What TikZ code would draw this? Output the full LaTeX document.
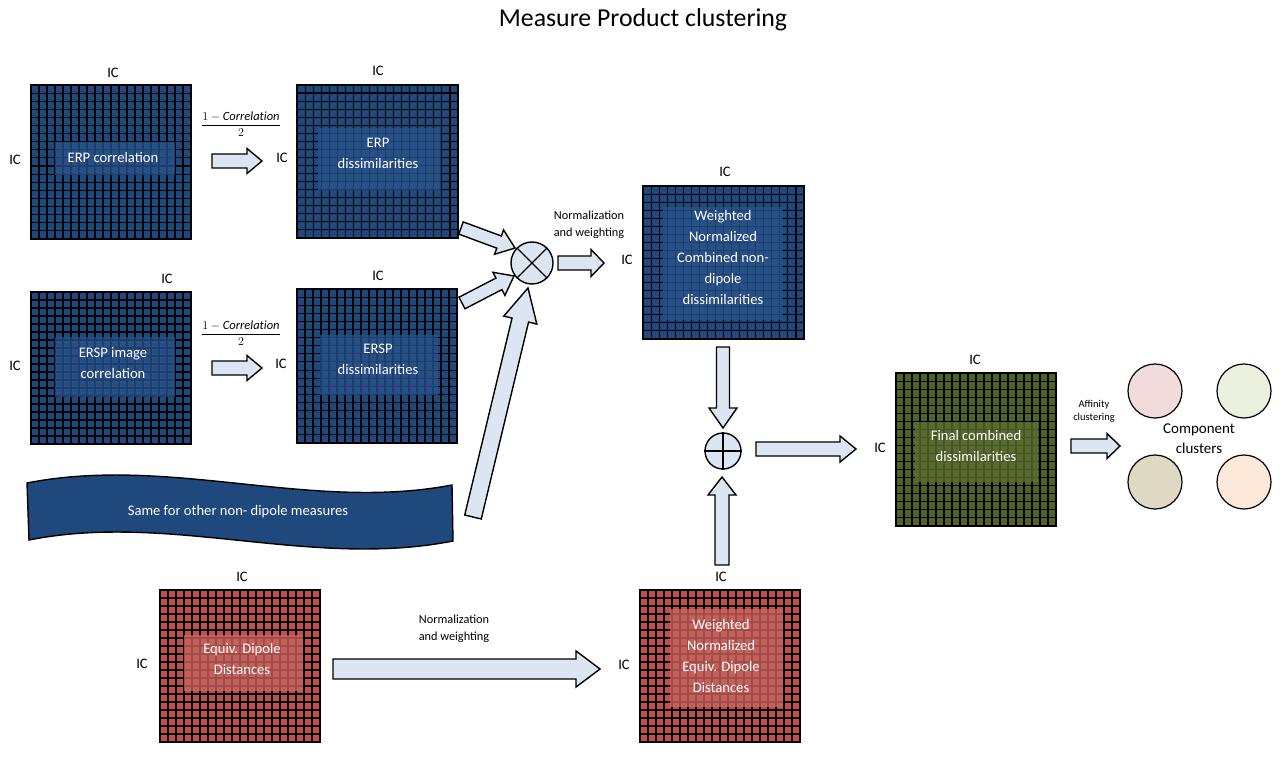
\documentclass[tikz,border=0pt]{standalone}
\usepackage{fontspec}
\setmainfont{Carlito}
\usetikzlibrary{calc}
\definecolor{mblue}{RGB}{31,73,125}
\definecolor{iblue}{RGB}{40,82,138}
\definecolor{mred}{RGB}{192,80,77}
\definecolor{ired}{RGB}{202,100,96}
\definecolor{mgreen}{RGB}{79,98,40}
\definecolor{igreen}{RGB}{90,110,50}
\definecolor{afill}{RGB}{220,230,242}
\definecolor{cpink}{RGB}{242,220,219}
\definecolor{cgreen}{RGB}{235,241,222}
\definecolor{ctan}{RGB}{221,217,195}
\definecolor{cpeach}{RGB}{253,233,217}
\tikzset{
  matbox/.style={inner sep=0pt, outer sep=0pt},
  gridline/.style={black, line width=1.1pt},
  matborder/.style={black, line width=1.8pt},
  inbox/.style={inner sep=0pt, outer sep=0pt, fill opacity=0.78},
  mtext/.style={text=white, align=center, font=\fontsize{14.6}{21}\selectfont},
  iclabel/.style={font=\fontsize{14.5}{17}\selectfont},
  smalllabel/.style={align=center, font=\fontsize{12.3}{17}\selectfont},
  blockarrow/.style={draw=black, line width=1.4pt, fill=afill, line join=miter},
  opnode/.style={circle, draw=black, line width=1.4pt, fill=afill, inner sep=0pt},
  clust/.style={circle, draw=black, line width=1.2pt, minimum size=54pt, inner sep=0pt},
}
% matrix: name, cx, cy, width, height, colour
\newcommand\icmat[6]{%
  \node[matbox, fill=#6, minimum width=#4pt, minimum height=#5pt] (#1) at (#2,#3) {};
  \foreach \k in {1,...,19}{\draw[gridline] ($(#1.north west)!{\k/20}!(#1.north east)$) -- ($(#1.south west)!{\k/20}!(#1.south east)$);}
  \foreach \k in {1,...,18}{\draw[gridline] ($(#1.north west)!{\k/19}!(#1.south west)$) -- ($(#1.north east)!{\k/19}!(#1.south east)$);}
  \draw[matborder] (#1.north west) rectangle (#1.south east);
}
% block arrow: tail, tip, shaft half width, head half width, head length
\newcommand\barrow[5]{%
  \draw[blockarrow] ($(#1)!#3!90:(#2)$) -- ($($(#2)!#5!(#1)$)!#3!-90:(#1)$) -- ($($(#2)!#5!(#1)$)!#4!-90:(#1)$) -- (#2) -- ($($(#2)!#5!(#1)$)!#4!90:(#1)$) -- ($($(#2)!#5!(#1)$)!#3!90:(#1)$) -- ($(#1)!#3!-90:(#2)$) -- cycle;
}
\begin{document}
\begin{tikzpicture}[x=1pt,y=-1pt]
\useasboundingbox (0,0) rectangle (1284,767);
\fill[white] (0,0) rectangle (1284,767);

\node[font=\fontsize{25.8}{30}\selectfont] (title) at (643,20) {Measure Product clustering};

% matrices
\icmat{m1}{111}{162}{160}{154}{mblue}
\node[inbox, fill=iblue, minimum width=120pt, minimum height=33pt] (m1i) at (115,158.5) {};
\node[mtext] (m1t) at (113,157) {ERP correlation};
\node[iclabel] (m1top) at (113,73) {IC};
\node[iclabel] (m1left) at (15,160) {IC};

\icmat{m2}{377.5}{161.5}{161}{153}{mblue}
\node[inbox, fill=iblue, minimum width=122pt, minimum height=62pt] (m2i) at (379,159) {};
\node[mtext] (m2t) at (378,153) {ERP\\dissimilarities};
\node[iclabel] (m2top) at (378,71) {IC};
\node[iclabel] (m2left) at (282,158) {IC};

\icmat{m3}{111}{368}{160}{152}{mblue}
\node[inbox, fill=iblue, minimum width=120pt, minimum height=60pt] (m3i) at (115,367) {};
\node[mtext] (m3t) at (113,363) {ERSP image\\correlation};
\node[iclabel] (m3top) at (167,279) {IC};
\node[iclabel] (m3left) at (15,366) {IC};

\icmat{m4}{377}{366}{160}{154}{mblue}
\node[inbox, fill=iblue, minimum width=118pt, minimum height=60pt] (m4i) at (379,365) {};
\node[mtext] (m4t) at (378,359) {ERSP\\dissimilarities};
\node[iclabel] (m4top) at (378,276) {IC};
\node[iclabel] (m4left) at (281,364) {IC};

\icmat{m5}{723.5}{262.5}{161}{153}{mblue}
\node[inbox, fill=iblue, minimum width=120pt, minimum height=113pt] (m5i) at (723,263.5) {};
\node[mtext] (m5t) at (723,257) {Weighted\\Normalized\\Combined non-\\dipole\\dissimilarities};
\node[iclabel] (m5top) at (725,172) {IC};
\node[iclabel] (m5left) at (627,260) {IC};

\icmat{m6}{976}{449.5}{160}{153}{mgreen}
\node[inbox, fill=igreen, minimum width=123pt, minimum height=60pt] (m6i) at (976.5,452) {};
\node[mtext] (m6t) at (976,446) {Final combined\\dissimilarities};
\node[iclabel] (m6top) at (975,360) {IC};
\node[iclabel] (m6left) at (880,448) {IC};

\icmat{m7}{240}{666}{160}{152}{mred}
\node[inbox, fill=ired, minimum width=119pt, minimum height=56pt] (m7i) at (243.5,663) {};
\node[mtext] (m7t) at (242,659) {Equiv. Dipole\\Distances};
\node[iclabel] (m7top) at (242,577) {IC};
\node[iclabel] (m7left) at (142,664) {IC};

\icmat{m8}{720}{666}{160}{152}{mred}
\node[inbox, fill=ired, minimum width=113pt, minimum height=98pt] (m8i) at (726.5,658) {};
\node[mtext] (m8t) at (721,656) {Weighted\\Normalized\\Equiv. Dipole\\Distances};
\node[iclabel] (m8top) at (721,577) {IC};
\node[iclabel] (m8left) at (624,665) {IC};

% wave banner
\draw[black, line width=1.4pt, fill=mblue] (27,483) .. controls (170,455) and (310,512) .. (452,485) -- (453,541) .. controls (310,569) and (170,512) .. (29,540) -- cycle;
\node[mtext] (wave) at (238,512) {Same for other non- dipole measures};

% operators
\node[opnode, minimum size=42pt] (ot) at (532,263) {};
\draw[line width=1.4pt] (ot.north west) -- (ot.south east) (ot.north east) -- (ot.south west);
\node[opnode, minimum size=36pt] (op) at (723,451) {};
\draw[line width=1.4pt] (op.north) -- (op.south) (op.west) -- (op.east);

% clusters
\node[clust, fill=cpink] (c1) at (1155,391) {};
\node[clust, fill=cgreen] (c2) at (1244,391) {};
\node[clust, fill=ctan] (c3) at (1155,482) {};
\node[clust, fill=cpeach] (c4) at (1244,482) {};
\node[align=center, font=\fontsize{15}{20}\selectfont] (comp) at (1199,439) {Component\\clusters};

% labels
\node[font=\fontsize{12.5}{14}\selectfont] (f1) at (241,124) {$\displaystyle\frac{1-\mathit{Correlation}}{2}$};
\node[font=\fontsize{12.5}{14}\selectfont] (f2) at (241,333) {$\displaystyle\frac{1-\mathit{Correlation}}{2}$};
\node[smalllabel] (nw1) at (589,225) {Normalization\\and weighting};
\node[smalllabel] (nw2) at (454,629) {Normalization\\and weighting};
\node[align=center, font=\fontsize{10.5}{13}\selectfont] (aff) at (1094,411) {Affinity\\clustering};

% arrow end points
\coordinate (a1t) at (212,161); \coordinate (a1h) at (262,161);
\coordinate (a2t) at (212,368); \coordinate (a2h) at (262,368);
\coordinate (a3t) at (461,228); \coordinate (a3h) at (515,248);
\coordinate (a4t) at (462,303); \coordinate (a4h) at (514,276);
\coordinate (a5t) at (473,517); \coordinate (a5h) at (528,288);
\coordinate (a6t) at (558,263); \coordinate (a6h) at (604,263);
\coordinate (a7t) at (723,347); \coordinate (a7h) at (723,428);
\coordinate (a8t) at (722,565); \coordinate (a8h) at (722,477);
\coordinate (a9t) at (756,449); \coordinate (a9h) at (856,449);
\coordinate (a10t) at (1071,446); \coordinate (a10h) at (1120,446);
\coordinate (a11t) at (333,669); \coordinate (a11h) at (600,669);

\barrow{a1t}{a1h}{7pt}{12.5pt}{15pt}
\barrow{a2t}{a2h}{7pt}{12.5pt}{15pt}
\barrow{a3t}{a3h}{6.5pt}{13pt}{17pt}
\barrow{a4t}{a4h}{6.5pt}{13pt}{17pt}
\barrow{a5t}{a5h}{8.5pt}{17pt}{33pt}
\barrow{a6t}{a6h}{7pt}{13.5pt}{13pt}
\barrow{a7t}{a7h}{6.5pt}{14pt}{20pt}
\barrow{a8t}{a8h}{7pt}{14pt}{18pt}
\barrow{a9t}{a9h}{7pt}{13pt}{16pt}
\barrow{a10t}{a10h}{7pt}{12.5pt}{13pt}
\barrow{a11t}{a11h}{10pt}{18pt}{24pt}
\end{tikzpicture}
\end{document}
